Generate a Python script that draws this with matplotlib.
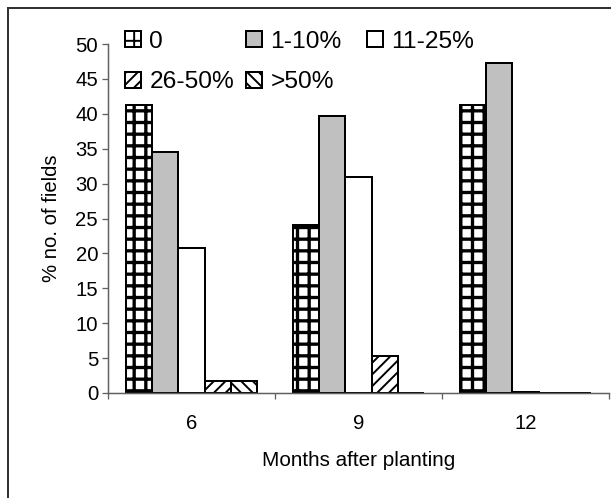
import matplotlib
matplotlib.use("Agg")
import matplotlib.pyplot as plt
from matplotlib.patches import Rectangle
import numpy as np

months = ["6", "9", "12"]
series_names = ["0", "1-10%", "11-25%", "26-50%", ">50%"]
v_0 = [41.3, 24.1, 41.3]
v_1_10 = [34.5, 39.7, 47.3]
v_11_25 = [20.8, 30.9, 0.15]
v_26_50 = [1.7, 5.3, 0.0]
v_gt50 = [1.7, 0.0, 0.0]
yticks = [0, 5, 10, 15, 20, 25, 30, 35, 40, 45, 50]

values = [v_0, v_1_10, v_11_25, v_26_50, v_gt50]
faces = ["white", "#C0C0C0", "white", "white", "white"]
hatches = ["++", "", "", "////", "\\\\\\\\"]
hatch_lw = [1.7, 1.0, 1.0, 1.0, 1.0]

DPI = 140
W, H = 611, 498
plt.rcParams["font.family"] = ["Liberation Sans", "DejaVu Sans"]
fig = plt.figure(figsize=(W / DPI, H / DPI), dpi=DPI)
px = 72.0 / DPI  # points per pixel

ax = fig.add_axes([108 / W, 1 - 393 / H, (609 - 108) / W, (393 - 44) / H])

x = np.arange(1, len(months) + 1)
bw = 0.156
handles = []
for i, (vals, fc, hc, hl) in enumerate(zip(values, faces, hatches, hatch_lw)):
    with plt.rc_context({"hatch.linewidth": hl}):
        bars = ax.bar(x + (i - 2) * bw, vals, width=bw, color=fc,
                      edgecolor="black", linewidth=2.0 * px, hatch=hc if hc else None,
                      label=series_names[i])
    for b in bars:
        if hasattr(b, "set_hatch_linewidth"):
            b.set_hatch_linewidth(hl)
    handles.append(bars)

ax.set_xlim(0.5, 3.5)
ax.set_ylim(0, 50)
ax.set_yticks(yticks)
ax.set_yticklabels([str(t) for t in yticks], fontsize=10.4)
ax.set_xticks([0.5, 1.5, 2.5, 3.5])
ax.set_xticklabels([])
ax.set_xticks(x, minor=True)
ax.set_xticklabels(months, minor=True, fontsize=10.4)
ax.tick_params(axis="x", which="major", direction="out", length=6 * px, width=1.3 * px, color="#606060")
ax.tick_params(axis="x", which="minor", length=0, pad=11)
ax.tick_params(axis="y", direction="out", length=6 * px, width=1.3 * px, color="#606060", pad=2)

for s in ["top", "right"]:
    ax.spines[s].set_visible(False)
for s in ["left", "bottom"]:
    ax.spines[s].set_color("#606060")
    ax.spines[s].set_linewidth(1.5 * px)

ax.set_xlabel("Months after planting", fontsize=10.6, labelpad=9)
ax.set_ylabel("% no. of fields", fontsize=10.4, labelpad=7.5)

# legend: three equal-width columns, entries in row-major order
columns = [[0, 3], [1, 4], [2]]
col_x = [125, 246, 367]
for cols, cx in zip(columns, col_x):
    fig.legend([handles[k] for k in cols], [series_names[k] for k in cols],
               ncol=1, loc="upper left", bbox_to_anchor=(cx / W, 1 - 31 / H),
               bbox_transform=fig.transFigure, frameon=False, fontsize=12.6,
               handlelength=0.64, handleheight=0.64, handletextpad=0.35,
               labelspacing=0.75, borderpad=0, borderaxespad=0)

# figure border (top and left visible, rest cropped)
fig.patches.append(Rectangle((8 / W, -0.2), 1.5, 1.2 - 8 / H, transform=fig.transFigure,
                             fill=False, edgecolor="#333333", linewidth=2.0 * px,
                             figure=fig, zorder=0))

fig.savefig("out.png", dpi=DPI)
